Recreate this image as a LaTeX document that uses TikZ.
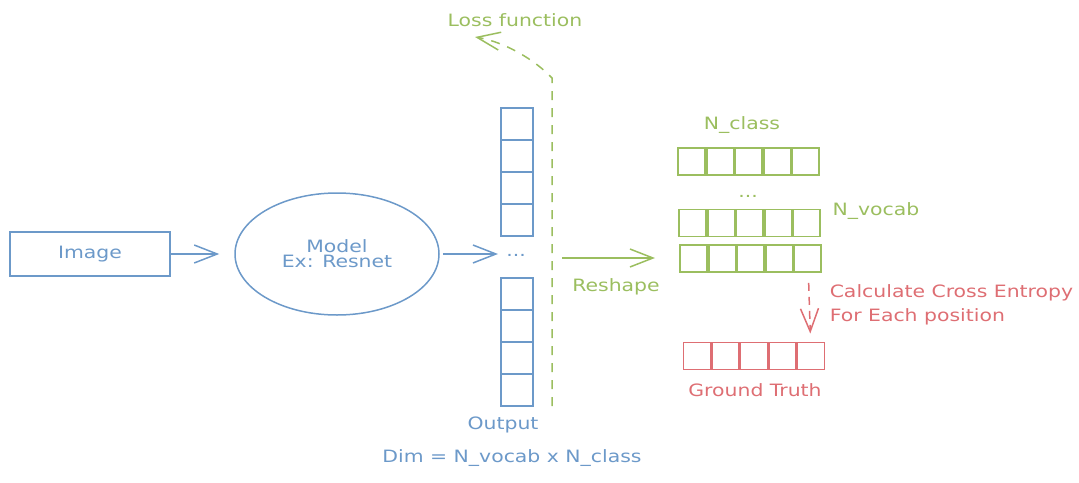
\documentclass[tikz,border=0pt]{standalone}
\usepackage{fontspec}
\setmainfont{DejaVu Sans}[FakeStretch=1.2]
\usetikzlibrary{arrows.meta,shapes.geometric}

\definecolor{sketchblue}{RGB}{108,153,201}
\definecolor{sketchgreen}{RGB}{155,190,95}
\definecolor{sketchred}{RGB}{222,110,115}

\tikzset{
    txt/.style={font=\fontsize{17}{19}\selectfont, inner sep=0pt},
    outcell/.style={draw=sketchblue, line width=1.9pt, minimum size=32pt, inner sep=0pt},
    greencell/.style={draw=sketchgreen, line width=1.9pt, minimum size=27pt, inner sep=0pt},
    redcell/.style={draw=sketchred, line width=1.9pt, minimum size=27pt, inner sep=0pt},
    barb/.style={-{Straight Barb[length=23pt, width=18pt]}},
    sketchdash/.style={dash pattern=on 9pt off 8pt}
}

\begin{document}
\begin{tikzpicture}[x=1pt, y=-1pt, line width=1.5pt]
                    \useasboundingbox (0, 0) rectangle (1079, 482);

                    \node (img) at (90, 254) [txt, draw=sketchblue, text=sketchblue, minimum width=160pt, minimum height=44pt] {Image};
                    \node (model) at (337, 254) [txt, ellipse, draw=sketchblue, text=sketchblue, minimum width=204pt, minimum height=122pt, align=center] {Model\\[-4pt]Ex: Resnet};

                    \node (o1) at (517, 124) [outcell] {};
                    \node (o2) at (517, 156) [outcell] {};
                    \node (o3) at (517, 188) [outcell] {};
                    \node (o4) at (517, 220) [outcell] {};
                    \node (odots) at (516, 255) [txt, text=sketchblue] {...};
                    \node (o5) at (517, 294) [outcell] {};
                    \node (o6) at (517, 326) [outcell] {};
                    \node (o7) at (517, 358) [outcell] {};
                    \node (o8) at (517, 390) [outcell] {};
                    \node (outlbl) at (503, 425) [txt, text=sketchblue] {Output};
                    \node (dimlbl) at (512, 458) [txt, text=sketchblue] {Dim = N\_vocab x N\_class};

                    \draw[sketchblue, barb] (img) -- (model) [shorten >=15pt];
                    \draw[sketchblue, barb, shorten <=3pt, shorten >=18pt] (model) -- (model -| odots);

                    % loss
                    \coordinate (lossstart) at (552, 406);
                    \coordinate (lossbend) at (552, 78);
                    \coordinate (losstip) at (475, 37);
                    \node (losslbl) at (515, 20) [txt, text=sketchgreen] {Loss function};
                    \draw[sketchgreen, sketchdash, barb] (lossstart) -- (lossbend) .. controls (535, 60) and (505, 42) .. (losstip);

                    % reshape
                    \coordinate (rsA) at (562, 258);
                    \coordinate (rsB) at (655, 258);
                    \draw[sketchgreen, barb] (rsA) -- (rsB);
                    \node (rslbl) at (616, 287) [txt, text=sketchgreen] {Reshape};

                    \node (ga1) at (691.5, 161.5) [greencell] {};
                    \node (ga2) at (720.1, 161.5) [greencell] {};
                    \node (ga3) at (748.7, 161.5) [greencell] {};
                    \node (ga4) at (777.3, 161.5) [greencell] {};
                    \node (ga5) at (805.9, 161.5) [greencell] {};
                    \node (gdots) at (748, 196) [txt, text=sketchgreen] {...};
                    \node (gb1) at (692.5, 223) [greencell] {};
                    \node (gb2) at (721.1, 223) [greencell] {};
                    \node (gb3) at (749.7, 223) [greencell] {};
                    \node (gb4) at (778.3, 223) [greencell] {};
                    \node (gb5) at (806.9, 223) [greencell] {};
                    \node (gc1) at (693.5, 258.5) [greencell] {};
                    \node (gc2) at (722.1, 258.5) [greencell] {};
                    \node (gc3) at (750.7, 258.5) [greencell] {};
                    \node (gc4) at (779.3, 258.5) [greencell] {};
                    \node (gc5) at (807.9, 258.5) [greencell] {};
                    \node (classlbl) at (742, 125) [txt, text=sketchgreen] {N\_class};
                    \node (vocablbl) at (876, 211) [txt, text=sketchgreen] {N\_vocab};

                    % ground truth
                    \node (r1) at (697, 356) [redcell] {};
                    \node (r2) at (725.5, 356) [redcell] {};
                    \node (r3) at (754, 356) [redcell] {};
                    \node (r4) at (782.5, 356) [redcell] {};
                    \node (r5) at (811, 356) [redcell] {};
                    \node (gtlbl) at (755, 390) [txt, text=sketchred] {Ground Truth};

                    \draw[sketchred, dash pattern=on 8pt off 6pt, barb, shorten <=10pt, shorten >=8pt] (gc5) -- (r5);
                    \node (celbl) at (829, 305) [txt, text=sketchred, anchor=west, align=left] {Calculate Cross Entropy\\[5pt]For Each position};
                \end{tikzpicture}
\end{document}
